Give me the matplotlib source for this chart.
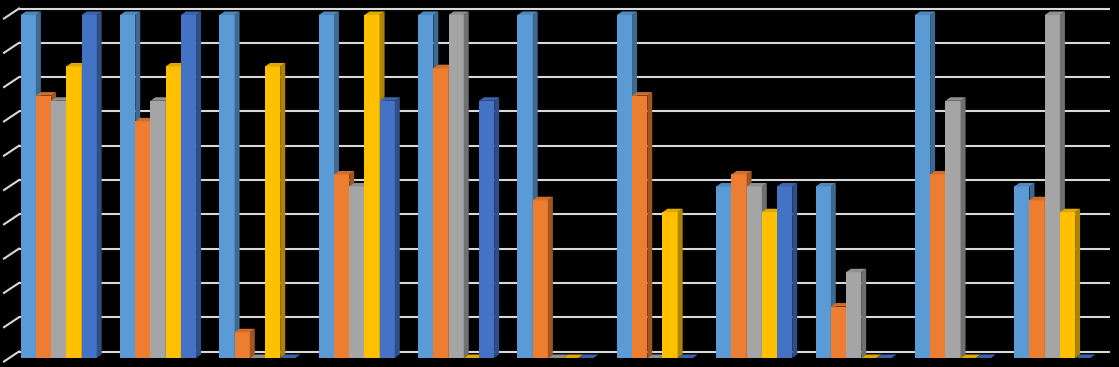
import numpy as np
import matplotlib.pyplot as plt
from matplotlib.patches import Polygon
from matplotlib.colors import to_rgb

# data (0-10 scale)
groups = list(range(11))
s1 = [10, 10, 10, 10, 10, 10, 10, 5, 5, 10, 5]
s2 = [7.65, 6.9, 0.75, 5.35, 8.45, 4.6, 7.65, 5.35, 1.5, 5.35, 4.6]
s3 = [7.5, 7.5, 0, 5, 10, 0, 0, 5, 2.5, 7.5, 10]
s4 = [8.5, 8.5, 8.5, 10, 0, 0, 4.25, 4.25, 0, 0, 4.25]
s5 = [10, 10, 0, 7.5, 7.5, 0, 0, 5, 0, 0, 0]
series = [s1, s2, s3, s4, s5]
colors = ['#5B9BD5', '#ED7D31', '#A5A5A5', '#FFC000', '#4472C4']
grid_vals = np.arange(0, 11, 1)

W, H = 1119, 367
BAR_W = 0.153          # bar width in group units
DEPTH_X, DEPTH_Y = 5, 3.5   # bar depth offset, px
WALL_Y = 6.5           # back wall offset above bar front, px

fig = plt.figure(figsize=(W / 100, H / 100), dpi=100, facecolor='black')
ax = fig.add_axes([0, 9 / H, 1, 343 / H])
ax.set_facecolor('black')
xmin, xmax = -58.7 / 99.36, (W - 58.7) / 99.36
ax.set_xlim(xmin, xmax)
ax.set_ylim(0, 10)
ax.axis('off')

px_x = ax.bbox.width / (xmax - xmin)
px_y = ax.bbox.height / 10.0


def shade(c, f):
    r, g, b = to_rgb(c)
    return (r * f, g * f, b * f)


# back wall gridlines and left wall ticks
gx0 = xmin + 19 / px_x
gx1 = xmin + 1110 / px_x
for v in grid_vals:
    yb = v + WALL_Y / px_y
    ax.plot([gx0, gx1], [yb, yb], color='#D9D9D9', lw=1.5, zorder=1,
            clip_on=False, solid_capstyle='butt')
    ax.plot([xmin + 4 / px_x, gx0], [yb - 10 / px_y, yb], color='#D9D9D9',
            lw=1.5, zorder=1, clip_on=False)

dx = DEPTH_X / px_x
dy = DEPTH_Y / px_y
z = 2
for gi in groups:
    left0 = gi - 2.5 * BAR_W
    for si, vals in enumerate(series):
        v = vals[gi]
        x0 = left0 + si * BAR_W
        x1 = x0 + BAR_W
        c = colors[si]
        ax.bar(x0, v, width=BAR_W, align='edge', color=c, lw=0,
               zorder=z, clip_on=False)
        side = Polygon([(x1, 0), (x1 + dx, dy), (x1 + dx, v + dy), (x1, v)],
                       closed=True, facecolor=shade(c, 0.68), lw=0,
                       zorder=z + 0.1, clip_on=False)
        top = Polygon([(x0, v), (x1, v), (x1 + dx, v + dy), (x0 + dx, v + dy)],
                      closed=True, facecolor=shade(c, 0.88), lw=0,
                      zorder=z + 0.2, clip_on=False)
        ax.add_patch(side)
        ax.add_patch(top)
        z += 1

fig.savefig('out.png', dpi=100, facecolor='black')
